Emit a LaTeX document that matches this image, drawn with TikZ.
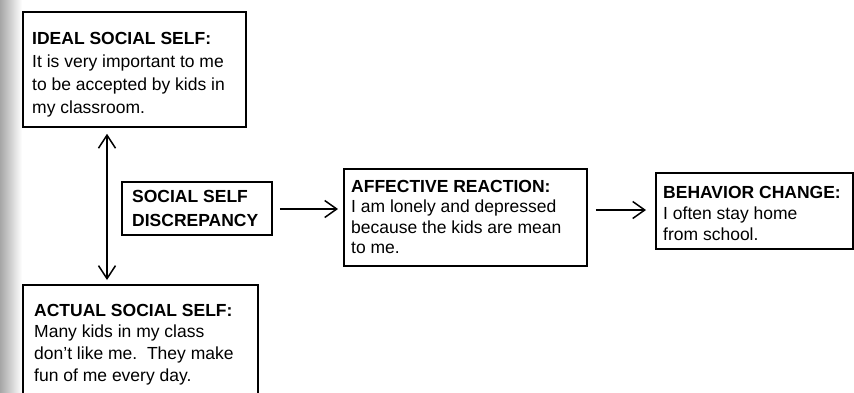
\documentclass[tikz,border=0pt]{standalone}
\usepackage{fontspec}
\setmainfont{Liberation Sans}
\usetikzlibrary{arrows.meta,calc}
\tikzset{
  boxn/.style={draw, line width=1.8pt, inner sep=0pt, anchor=north west},
  txt/.style={anchor=base west, inner sep=0pt, font=\fontsize{17.5pt}{#1}\selectfont},
  barb/.style={Straight Barb[length=12pt,width=17pt,line width=1.5pt]},
  arr/.style={line width=1.5pt, -{Straight Barb[length=12pt,width=17pt,line width=1.5pt]}},
  darr/.style={line width=1.5pt, {Straight Barb[length=13pt,width=17pt,line width=1.5pt]}-{Straight Barb[length=13pt,width=17pt,line width=1.5pt]}},
}
\newcommand\blines[1]{\begin{tabular}[t]{@{}l@{}}#1\end{tabular}}
\begin{document}
\begin{tikzpicture}[x=1pt,y=-1pt]
\useasboundingbox (0,0) rectangle (854,392);
\clip (0,0) rectangle (854,392);
\shade[left color=black!35, right color=white] (0,0) rectangle (22,392);

% boxes
\node[boxn, minimum width=223pt, minimum height=115pt] (ideal) at (22,11) {};
\node[boxn, minimum width=150pt, minimum height=53pt] (disc) at (121,181) {};
\node[boxn, minimum width=243pt, minimum height=97pt] (aff) at (343,168) {};
\node[boxn, minimum width=197pt, minimum height=76pt] (beh) at (655,172) {};
\node[boxn, minimum width=235pt, minimum height=120pt] (actual) at (22,284) {};

% texts
\node[txt=23pt] (idealt) at (32,44) {\blines{\textbf{IDEAL SOCIAL SELF:}\\It is very important to me\\to be accepted by kids in\\my classroom.}};
\node[txt=24pt] (disct) at (132,202) {\blines{\textbf{SOCIAL SELF}\\\textbf{DISCREPANCY}}};
\node[txt=20.5pt] (afft) at (351,192) {\blines{\textbf{AFFECTIVE REACTION:}\\I am lonely and depressed\\because the kids are mean\\to me.}};
\node[txt=21pt] (beht) at (663,198) {\blines{\textbf{BEHAVIOR CHANGE:}\\I often stay home\\from school.}};
\node[txt=21.7pt] (actualt) at (34,316) {\blines{\textbf{ACTUAL SOCIAL SELF:}\\Many kids in my class\\don{\char"0027}t like me.\ \ They make\\fun of me every day.}};

% connectors
\draw[darr] ($(ideal.south west)+(85,6)$) -- ($(actual.north west)+(85,-4)$);
\draw[arr] ($(disc.north east)+(7,28)$) -- ($(aff.north west)+(-5,41)$);
\draw[arr] ($(aff.north east)+(8,42)$) -- ($(beh.north west)+(-9,38)$);
\end{tikzpicture}
\end{document}
